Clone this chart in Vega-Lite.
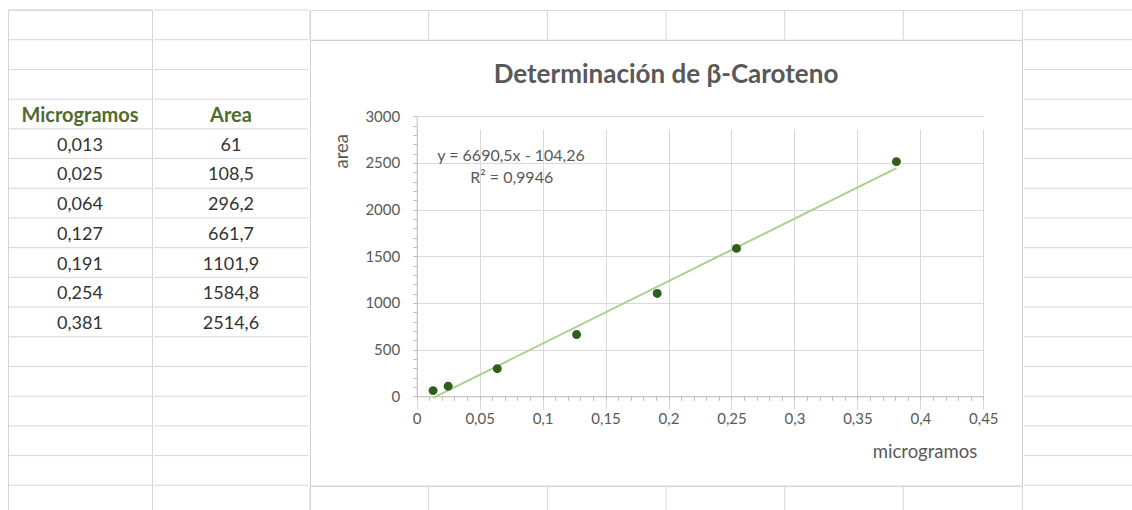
{
  "$schema": "https://vega.github.io/schema/vega-lite/v6.json",
  "padding": {"left": 7, "top": 9, "right": 0, "bottom": 0},
  "background": "white",
  "config": {
    "view": {"stroke": "#d6d6d6"},
    "font": "Lato",
    "concat": {"spacing": 0}
  },
  "datasets": {
    "cal": [
      {"microgramos": 0.013, "area": 61},
      {"microgramos": 0.025, "area": 108.5},
      {"microgramos": 0.064, "area": 296.2},
      {"microgramos": 0.127, "area": 661.7},
      {"microgramos": 0.191, "area": 1101.9},
      {"microgramos": 0.254, "area": 1584.8},
      {"microgramos": 0.381, "area": 2514.6}
    ],
    "table": [
      {"col": "A", "row": 4, "text": "Microgramos", "kind": "head"},
      {"col": "A", "row": 5, "text": "0,013", "kind": "val"},
      {"col": "A", "row": 6, "text": "0,025", "kind": "val"},
      {"col": "A", "row": 7, "text": "0,064", "kind": "val"},
      {"col": "A", "row": 8, "text": "0,127", "kind": "val"},
      {"col": "A", "row": 9, "text": "0,191", "kind": "val"},
      {"col": "A", "row": 10, "text": "0,254", "kind": "val"},
      {"col": "A", "row": 11, "text": "0,381", "kind": "val"},
      {"col": "B", "row": 4, "text": "Area", "kind": "head"},
      {"col": "B", "row": 5, "text": "61", "kind": "val"},
      {"col": "B", "row": 6, "text": "108,5", "kind": "val"},
      {"col": "B", "row": 7, "text": "296,2", "kind": "val"},
      {"col": "B", "row": 8, "text": "661,7", "kind": "val"},
      {"col": "B", "row": 9, "text": "1101,9", "kind": "val"},
      {"col": "B", "row": 10, "text": "1584,8", "kind": "val"},
      {"col": "B", "row": 11, "text": "2514,6", "kind": "val"}
    ],
    "rows": [
      {"row": 1}, {"row": 2}, {"row": 3}, {"row": 4}, {"row": 5}, {"row": 6},
      {"row": 7}, {"row": 8}, {"row": 9}, {"row": 10}, {"row": 11}, {"row": 12},
      {"row": 13}, {"row": 14}, {"row": 15}, {"row": 16}, {"row": 17}
    ],
    "cols": [
      {"col": "C"}, {"col": "D"}, {"col": "E"}, {"col": "F"}, {"col": "G"}, {"col": "H"}
    ],
    "eq": [
      {"label": "y = 6690,5x - 104,26", "microgramos": 0.0749, "area": 2571},
      {"label": "R² = 0,9946", "microgramos": 0.0755, "area": 2343}
    ]
  },
  "spacing": 0,
  "hconcat": [
    {
      "width": 144,
      "height": 505,
      "layer": [
        {
          "data": {"name": "rows"},
          "mark": {"type": "rule", "color": "#d6d6d6", "strokeWidth": 1},
          "encoding": {
            "y": {"field": "row", "type": "ordinal", "bandPosition": 0,
              "scale": {"type": "band", "domain": [1,2,3,4,5,6,7,8,9,10,11,12,13,14,15,16,17], "paddingInner": 0, "paddingOuter": 0},
              "axis": null}
          }
        },
        {
          "data": {"name": "table"},
          "transform": [{"filter": "datum.col === 'A' && datum.kind === 'head'"}],
          "mark": {"type": "text", "font": "Lato", "fontSize": 20, "fontWeight": "bold", "color": "#4f6b2f", "baseline": "middle", "dy": 2},
          "encoding": {"y": {"field": "row", "type": "ordinal"}, "text": {"field": "text"}}
        },
        {
          "data": {"name": "table"},
          "transform": [{"filter": "datum.col === 'A' && datum.kind === 'val'"}],
          "mark": {"type": "text", "font": "Lato", "fontSize": 18, "color": "#333333", "baseline": "middle", "dy": 2},
          "encoding": {"y": {"field": "row", "type": "ordinal"}, "text": {"field": "text"}}
        }
      ]
    },
    {
      "width": 154,
      "height": 505,
      "view": {"stroke": null},
      "layer": [
        {
          "data": {"name": "rows"},
          "mark": {"type": "rule", "color": "#d6d6d6", "strokeWidth": 1},
          "encoding": {
            "y": {"field": "row", "type": "ordinal", "bandPosition": 0,
              "scale": {"type": "band", "domain": [1,2,3,4,5,6,7,8,9,10,11,12,13,14,15,16,17], "paddingInner": 0, "paddingOuter": 0},
              "axis": null}
          }
        },
        {
          "data": {"name": "table"},
          "transform": [{"filter": "datum.col === 'B' && datum.kind === 'head'"}],
          "mark": {"type": "text", "font": "Lato", "fontSize": 20, "fontWeight": "bold", "color": "#4f6b2f", "baseline": "middle", "dy": 2},
          "encoding": {"y": {"field": "row", "type": "ordinal"}, "text": {"field": "text"}}
        },
        {
          "data": {"name": "table"},
          "transform": [{"filter": "datum.col === 'B' && datum.kind === 'val'"}],
          "mark": {"type": "text", "font": "Lato", "fontSize": 18, "color": "#333333", "baseline": "middle", "dy": 2},
          "encoding": {"y": {"field": "row", "type": "ordinal"}, "text": {"field": "text"}}
        }
      ]
    },
    {
      "spacing": 0,
      "bounds": "flush",
      "vconcat": [
        {
          "width": 712,
          "height": 29.7,
          "data": {"name": "cols"},
          "mark": {"type": "rule", "color": "#d6d6d6", "strokeWidth": 1},
          "encoding": {
            "x": {"field": "col", "type": "nominal", "bandPosition": 0,
              "scale": {"type": "band", "paddingInner": 0, "paddingOuter": 0},
              "axis": null}
          }
        },
        {
          "width": 712,
          "height": 445.6,
          "view": {"stroke": "#d0d0d0"},
          "title": {"text": "Determinación de β-Caroteno", "font": "Lato", "fontSize": 26, "fontWeight": "bold", "color": "#595959", "anchor": "middle", "baseline": "alphabetic", "offset": -43.6, "dy": 25},
          "encoding": {
            "x": {
              "field": "microgramos", "type": "quantitative",
              "scale": {"domain": [0, 0.45], "range": [106.7, 673.3], "nice": false, "zero": false},
              "axis": {
                "orient": "bottom", "offset": -89.3,
                "values": [0,0.01,0.02,0.03,0.04,0.05,0.06,0.07,0.08,0.09,0.1,0.11,0.12,0.13,0.14,0.15,0.16,0.17,0.18,0.19,0.2,0.21,0.22,0.23,0.24,0.25,0.26,0.27,0.28,0.29,0.3,0.31,0.32,0.33,0.34,0.35,0.36,0.37,0.38,0.39,0.4,0.41,0.42,0.43,0.44,0.45],
                "labelExpr": "round(datum.value*100) % 5 === 0 ? replace(toString(datum.value), '.', ',') : ''",
                "labelOverlap": false, "labelFlush": false, "labelBound": false,
                "labelFont": "Lato", "labelFontSize": 15, "labelColor": "#595959",
                "labelBaseline": "middle", "labelPadding": 18,
                "tickSize": 4, "tickColor": "#bfbfbf", "domainColor": "#bfbfbf",
                "grid": true, "gridColor": "#d9d9d9",
                "gridOpacity": {"condition": {"test": "round(datum.value*100) % 5 === 0", "value": 1}, "value": 0},
                "title": "microgramos", "titleX": 614.5, "titleY": 55,
                "titleFont": "Lato", "titleFontSize": 18.5, "titleFontWeight": "normal", "titleColor": "#595959",
                "titleAlign": "center", "titleBaseline": "middle"
              }
            },
            "y": {
              "field": "area", "type": "quantitative",
              "scale": {"domain": [0, 3000], "range": [356.3, 76.3], "nice": false, "zero": false},
              "axis": {
                "orient": "left", "offset": -106.7,
                "values": [0,100,200,300,400,500,600,700,800,900,1000,1100,1200,1300,1400,1500,1600,1700,1800,1900,2000,2100,2200,2300,2400,2500,2600,2700,2800,2900,3000],
                "labelExpr": "datum.value % 500 === 0 ? toString(datum.value) : ''",
                "labelOverlap": false, "labelFlush": false, "labelBound": false,
                "labelFont": "Lato", "labelFontSize": 15, "labelColor": "#595959",
                "labelPadding": 13,
                "tickSize": 4, "tickColor": "#bfbfbf", "domainColor": "#bfbfbf",
                "grid": true, "gridColor": "#d9d9d9",
                "gridOpacity": {"condition": {"test": "datum.value % 500 === 0", "value": 1}, "value": 0},
                "title": "area", "titleX": -75, "titleY": 110.8, "titleAngle": -90,
                "titleFont": "Lato", "titleFontSize": 18.5, "titleFontWeight": "normal", "titleColor": "#595959",
                "titleAlign": "center", "titleBaseline": "middle"
              }
            }
          },
          "layer": [
            {
              "data": {"name": "cal"},
              "transform": [{"regression": "area", "on": "microgramos"}],
              "mark": {"type": "line", "color": "#a9d08e", "strokeWidth": 2}
            },
            {
              "data": {"name": "cal"},
              "mark": {"type": "circle", "color": "#2f5e1d", "opacity": 1, "size": 80}
            },
            {
              "data": {"name": "eq"},
              "mark": {"type": "text", "font": "Lato", "fontSize": 16, "color": "#595959", "baseline": "middle", "align": "center"},
              "encoding": {
                "text": {"field": "label"}
              }
            }
          ]
        },
        {
          "width": 712,
          "height": 29.7,
          "data": {"name": "cols"},
          "mark": {"type": "rule", "color": "#d6d6d6", "strokeWidth": 1},
          "encoding": {
            "x": {"field": "col", "type": "nominal", "bandPosition": 0,
              "scale": {"type": "band", "paddingInner": 0, "paddingOuter": 0},
              "axis": null}
          }
        }
      ]
    },
    {
      "width": 118.7,
      "height": 505,
      "view": {"stroke": null},
      "data": {"name": "rows"},
      "mark": {"type": "rule", "color": "#d6d6d6", "strokeWidth": 1},
      "encoding": {
        "y": {"field": "row", "type": "ordinal", "bandPosition": 0,
          "scale": {"type": "band", "domain": [1,2,3,4,5,6,7,8,9,10,11,12,13,14,15,16,17], "paddingInner": 0, "paddingOuter": 0},
          "axis": null}
      }
    }
  ]
}
